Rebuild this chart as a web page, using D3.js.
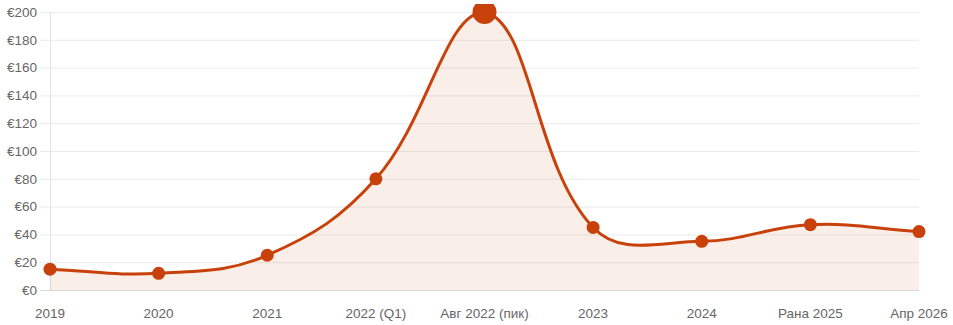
<!DOCTYPE html>
<html>
<head>
<meta charset="utf-8">
<script src="https://cdn.jsdelivr.net/npm/d3@7"></script>
<style>
  body { margin: 0; background: #fff; }
  svg { display: block; font-family: "Liberation Sans", Arial, sans-serif; }
</style>
</head>
<body>
<main></main>
<script>
const labels = ["2019", "2020", "2021", "2022 (Q1)", "Авг 2022 (пик)", "2023", "2024", "Рана 2025", "Апр 2026"];
const prices = [15, 12, 25, 80, 200, 45, 35, 47, 42];
const yTicks = [0, 20, 40, 60, 80, 100, 120, 140, 160, 180, 200];
const peakIndex = 4;

const W = 953, H = 325;
const margin = { top: 12, right: 34, bottom: 35, left: 50 };
const width = W - margin.left - margin.right;
const height = H - margin.top - margin.bottom;
const color = "#c8410b";

const svg = d3.select("main").append("svg").attr("width", W).attr("height", H);

const x = d3.scalePoint().domain(labels).range([margin.left, margin.left + width]);
const y = d3.scaleLinear().domain([0, 200]).range([margin.top + height, margin.top]);

// grid
svg.append("g")
  .selectAll("line")
  .data(yTicks)
  .join("line")
  .attr("x1", margin.left - 10)
  .attr("x2", margin.left + width)
  .attr("y1", d => y(d) + 0.5)
  .attr("y2", d => y(d) + 0.5)
  .attr("stroke", d => d === 0 ? "#d9d9d9" : "#ebebeb");

svg.append("line")
  .attr("x1", margin.left + 0.5).attr("x2", margin.left + 0.5)
  .attr("y1", margin.top).attr("y2", margin.top + height)
  .attr("stroke", "#e3e3e3");

// y labels
svg.append("g")
  .selectAll("text")
  .data(yTicks)
  .join("text")
  .attr("x", margin.left - 13)
  .attr("y", d => y(d))
  .attr("dy", "0.35em")
  .attr("text-anchor", "end")
  .attr("font-size", 13.5)
  .attr("fill", "#666")
  .text(d => "€" + d);

// x labels
svg.append("g")
  .selectAll("text")
  .data(labels)
  .join("text")
  .attr("x", d => x(d))
  .attr("y", margin.top + height + 28)
  .attr("text-anchor", "middle")
  .attr("font-size", 13.5)
  .attr("fill", "#666")
  .text(d => d);

// Chart.js-like spline (tension 0.4)
const pts = labels.map((l, i) => [x(l), y(prices[i])]);
const tension = 0.4;
const ctrl = pts.map((p, i) => {
  const prev = pts[i - 1] || p, next = pts[i + 1] || p;
  const d01 = Math.hypot(p[0] - prev[0], p[1] - prev[1]);
  const d12 = Math.hypot(next[0] - p[0], next[1] - p[1]);
  let s01 = d01 / (d01 + d12), s12 = d12 / (d01 + d12);
  if (isNaN(s01)) s01 = 0;
  if (isNaN(s12)) s12 = 0;
  const fa = tension * s01, fb = tension * s12;
  const clampY = v => Math.max(margin.top, Math.min(margin.top + height, v));
  return {
    prev: [p[0] - fa * (next[0] - prev[0]), clampY(p[1] - fa * (next[1] - prev[1]))],
    next: [p[0] + fb * (next[0] - prev[0]), clampY(p[1] + fb * (next[1] - prev[1]))]
  };
});
const curvePath = () => {
  const path = d3.path();
  path.moveTo(pts[0][0], pts[0][1]);
  for (let i = 1; i < pts.length; i++) {
    path.bezierCurveTo(ctrl[i - 1].next[0], ctrl[i - 1].next[1], ctrl[i].prev[0], ctrl[i].prev[1], pts[i][0], pts[i][1]);
  }
  return path;
};
const areaPath = curvePath();
areaPath.lineTo(pts[pts.length - 1][0], y(0));
areaPath.lineTo(pts[0][0], y(0));
areaPath.closePath();

svg.append("clipPath").attr("id", "clip")
  .append("rect").attr("x", 0).attr("y", 4).attr("width", W).attr("height", H);

const plot = svg.append("g").attr("clip-path", "url(#clip)");

plot.append("path")
  .attr("d", areaPath.toString())
  .attr("fill", color)
  .attr("fill-opacity", 0.09);

plot.append("path")
  .attr("d", curvePath().toString())
  .attr("fill", "none")
  .attr("stroke", color)
  .attr("stroke-width", 3);

plot.selectAll("circle")
  .data(prices)
  .join("circle")
  .attr("cx", (d, i) => x(labels[i]))
  .attr("cy", d => y(d))
  .attr("r", (d, i) => i === peakIndex ? 12 : 6.5)
  .attr("fill", color);
</script>
</body>
</html>
